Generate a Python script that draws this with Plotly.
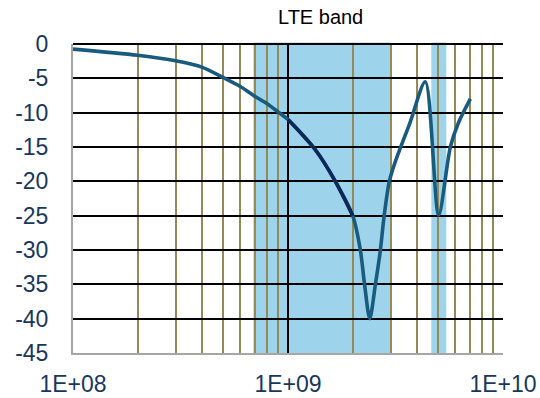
import plotly.graph_objects as go

# ---- data ----
freq_hz = [1e8, 2e8, 3e8, 4e8, 5e8, 6e8, 7e8, 8e8, 9e8, 1e9,
           1.34e9, 1.66e9, 2e9, 2.17e9, 2.27e9, 2.4e9, 2.55e9, 2.69e9,
           2.8e9, 2.96e9, 3.15e9, 3.7e9, 4.35e9, 5.02e9, 5.69e9, 6.2e9, 7.05e9]
s11_db = [-0.75, -1.65, -2.45, -3.4, -4.9, -6.2, -7.6, -8.7, -9.9, -11.0,
          -15.4, -20.0, -25.0, -30.0, -35.0, -40.0, -35.0, -30.0,
          -25.0, -20.0, -17.2, -11.4, -5.5, -24.9, -15.0, -11.5, -8.0]

# highlighted (darker) segment of the curve
hl_freq_hz = [1e9, 1.34e9, 1.66e9, 2e9]
hl_s11_db = [-11.0, -15.4, -20.0, -25.0]

# shaded LTE bands (Hz)
band_starts = [6.9e8, 4.64e9]
band_ends = [3.0e9, 5.45e9]

x_ticks = [1e8, 1e9, 1e10]
x_tick_labels = ["1E+08", "1E+09", "1E+10"]
y_ticks = [0, -5, -10, -15, -20, -25, -30, -35, -40, -45]
y_tick_labels = ["0", "-5", "-10", "-15", "-20", "-25", "-30", "-35", "-40", "-45"]

TEAL = "#195B7E"
NAVY = "#0B2856"
BAND = "#9DD4EC"
OLIVE = "#958A55"
LABEL = "#17375E"
FONT = "Liberation Sans, Arial"

fig = go.Figure()

fig.add_trace(go.Scatter(
    x=freq_hz, y=s11_db, mode="lines",
    line=dict(color=TEAL, width=3.6, shape="spline", smoothing=0.8),
    showlegend=False, hoverinfo="skip"))
fig.add_trace(go.Scatter(
    x=hl_freq_hz, y=hl_s11_db, mode="lines",
    line=dict(color=NAVY, width=3.6, shape="spline", smoothing=0.8),
    showlegend=False, hoverinfo="skip"))

for a, b in zip(band_starts, band_ends):
    fig.add_shape(type="rect", xref="x", yref="paper", x0=a, x1=b, y0=0, y1=1.005,
                  fillcolor=BAND, line_width=0, layer="below")

fig.add_annotation(text="LTE band", xref="paper", yref="paper",
                   x=0.575, y=1.088, xanchor="center", yanchor="middle",
                   showarrow=False,
                   font=dict(family=FONT, size=20, color="#000000"))

fig.update_xaxes(
    type="log", range=[8, 10],
    tickvals=x_ticks, ticktext=x_tick_labels,
    showgrid=True, gridcolor="#000000", gridwidth=1.5,
    minor=dict(dtick="D1", showgrid=True, gridcolor=OLIVE, gridwidth=2, ticks=""),
    showline=True, linecolor="#A6A6A6", linewidth=2,
    ticks="outside", ticklen=9, tickcolor="rgba(0,0,0,0)",
    tickfont=dict(family=FONT, size=23, color=LABEL),
    zeroline=False, fixedrange=True, automargin=False)

fig.update_yaxes(
    range=[-45, 0], tickvals=y_ticks, ticktext=y_tick_labels,
    showgrid=True, gridcolor="#000000", gridwidth=1.5,
    showline=True, linecolor="#A6A6A6", linewidth=2,
    ticks="outside", ticklen=18, tickcolor="rgba(0,0,0,0)",
    tickfont=dict(family=FONT, size=23, color=LABEL),
    zeroline=True, zerolinecolor="#000000", zerolinewidth=2,
    fixedrange=True, automargin=False)

fig.update_layout(
    width=540, height=398,
    margin=dict(l=73, r=37, t=44, b=45),
    paper_bgcolor="white", plot_bgcolor="white",
    showlegend=False)

fig.write_html("out.html", config={"displayModeBar": False},
               post_script="document.body.style.margin='0';document.body.style.overflow='hidden';")
